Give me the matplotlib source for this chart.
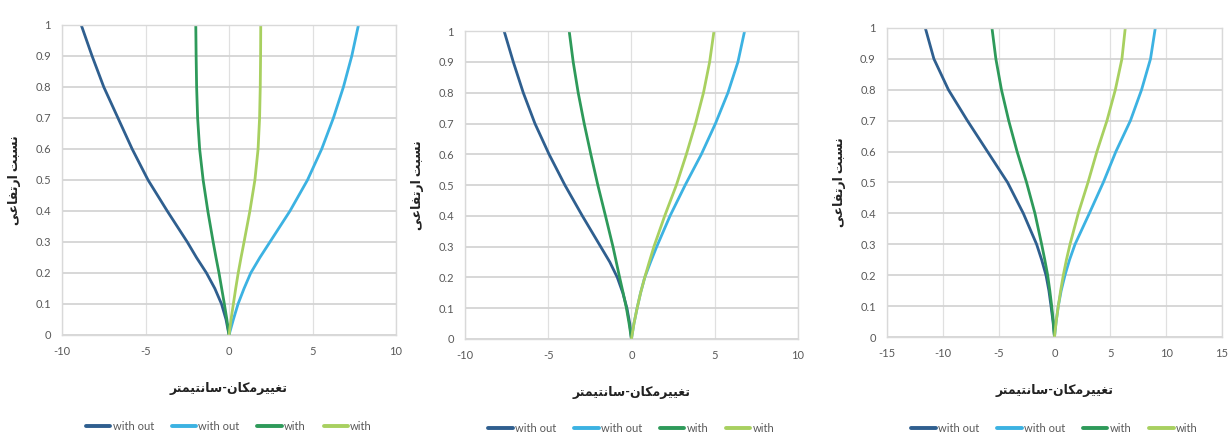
import numpy as np
import matplotlib.pyplot as plt

plt.rcParams['font.family'] = ['Lato', 'DejaVu Sans']
plt.rcParams['axes.unicode_minus'] = False

# height ratio (shared by every curve)
levels = [0, 0.05, 0.1, 0.15, 0.2, 0.25, 0.3, 0.4, 0.5, 0.6, 0.7, 0.8, 0.9, 1.0]

# panel 1 displacements (cm)
p1_wo_neg = [0, -0.18, -0.45, -0.85, -1.35, -1.95, -2.5, -3.7, -4.85, -5.8, -6.65, -7.5, -8.2, -8.85]
p1_wo_pos = [0, 0.26, 0.54, 0.9, 1.3, 1.85, 2.45, 3.65, 4.7, 5.55, 6.25, 6.85, 7.35, 7.75]
p1_w_neg = [0, -0.13, -0.28, -0.44, -0.6, -0.78, -0.95, -1.27, -1.55, -1.76, -1.88, -1.94, -1.97, -1.99]
p1_w_pos = [0, 0.12, 0.26, 0.4, 0.55, 0.72, 0.9, 1.25, 1.55, 1.74, 1.83, 1.87, 1.89, 1.9]

# panel 2
p2_wo_neg = [0, -0.1, -0.27, -0.52, -0.85, -1.3, -1.85, -2.95, -4.0, -4.95, -5.8, -6.5, -7.1, -7.65]
p2_wo_pos = [0, 0.15, 0.34, 0.55, 0.8, 1.15, 1.52, 2.32, 3.23, 4.2, 5.05, 5.8, 6.4, 6.8]
p2_w_neg = [0, -0.14, -0.3, -0.5, -0.71, -0.91, -1.11, -1.56, -2.02, -2.44, -2.84, -3.2, -3.5, -3.74]
p2_w_pos = [0, 0.15, 0.34, 0.55, 0.8, 1.07, 1.35, 2.0, 2.7, 3.3, 3.85, 4.33, 4.7, 4.96]

# panel 3
p3_wo_neg = [0, -0.13, -0.31, -0.5, -0.76, -1.15, -1.6, -2.79, -4.2, -6.0, -7.8, -9.5, -10.8, -11.57]
p3_wo_pos = [0, 0.15, 0.34, 0.6, 0.94, 1.35, 1.84, 3.12, 4.37, 5.5, 6.8, 7.8, 8.6, 9.03]
p3_w_neg = [0, -0.11, -0.25, -0.42, -0.61, -0.87, -1.15, -1.75, -2.5, -3.35, -4.1, -4.75, -5.25, -5.6]
p3_w_pos = [0, 0.15, 0.34, 0.55, 0.79, 1.07, 1.39, 2.13, 3.0, 3.8, 4.7, 5.45, 6.04, 6.34]

series_labels = ['with out', 'with out', 'with', 'with']
colors = ['#2f5f8f', '#3cb2e2', '#2e9a5a', '#a8d060']

yticks = [0, 0.1, 0.2, 0.3, 0.4, 0.5, 0.6, 0.7, 0.8, 0.9, 1.0]
ytick_labels = ['0', '0.1', '0.2', '0.3', '0.4', '0.5', '0.6', '0.7', '0.8', '0.9', '1']

# curves, x half-range, axes rect, legend centre height (figure fraction)
panels = [
    ([p1_wo_neg, p1_wo_pos, p1_w_neg, p1_w_pos], 10, [0.0505, 0.2317, 0.272, 0.711], 0.022),
    ([p2_wo_neg, p2_wo_pos, p2_w_neg, p2_w_pos], 10, [0.3787, 0.2225, 0.271, 0.706], 0.017),
    ([p3_wo_neg, p3_wo_pos, p3_w_neg, p3_w_pos], 15, [0.7223, 0.2270, 0.2728, 0.709], 0.017),
]

# Persian labels written with presentation forms in visual order
xlabel = '\uFE97\uFED0\uFBFF\uFBFF\uFEAE\uFEE3\uFB91\uFE8E\uFEE5-\uFEB3\uFE8E\uFEE7\uFE98\uFBFF\uFEE4\uFE98\uFEAE'[::-1]
ylabel = '\uFEE7\uFEB4\uFE92\uFE96 \uFE8D\uFEAD\uFE97\uFED4\uFE8E\uFECB\uFBFD'[::-1]

fig = plt.figure(figsize=(12.28, 4.36), dpi=100)

for curves, lim, rect, leg_y in panels:
    ax = fig.add_axes(rect)
    for vals, lab, col in zip(curves, series_labels, colors):
        ax.plot(vals, levels, color=col, lw=2, label=lab,
                solid_capstyle='round', solid_joinstyle='round')
    ax.set_xlim(-lim, lim)
    ax.set_ylim(0, 1)
    ax.set_xticks(np.arange(-lim, lim + 1, 5))
    ax.set_yticks(yticks)
    ax.set_yticklabels(ytick_labels)
    ax.grid(axis='y', color='#d4d4d4', lw=1.3)
    ax.grid(axis='x', color='#e0e0e0', lw=0.9)
    ax.set_axisbelow(True)
    for s in ax.spines.values():
        s.set_color('#d9d9d9')
        s.set_linewidth(1.0)
    ax.tick_params(length=0, labelsize=8, colors='#595959', pad=8)
    ax.set_xlabel(xlabel, fontsize=9, fontweight='bold', color='#222222', labelpad=18)
    ax.set_ylabel(ylabel, fontsize=9, fontweight='bold', color='#222222', labelpad=10)
    leg = ax.legend(loc='center', bbox_to_anchor=(rect[0] + rect[2] / 2, leg_y),
                    bbox_transform=fig.transFigure, ncol=4, frameon=False,
                    fontsize=8, handlelength=2.2, handletextpad=0.2, columnspacing=1.6,
                    labelcolor='#595959', borderpad=0.1)
    for ln in leg.get_lines():
        ln.set_linewidth(2.8)

fig.savefig('out.png', dpi=100, facecolor='white')
